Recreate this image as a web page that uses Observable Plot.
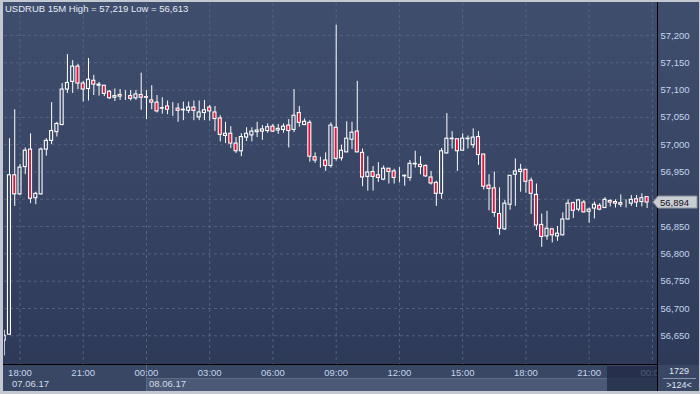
<!DOCTYPE html>
<html><head><meta charset="utf-8">
<script src="https://cdn.jsdelivr.net/npm/d3@7"></script>
<script src="https://cdn.jsdelivr.net/npm/@observablehq/plot@0.6"></script>
<style>
html,body{margin:0;padding:0;background:#c4c9d1;}
#chart{width:700px;height:394px;overflow:hidden;}
svg{display:block;}
</style></head><body><div id="chart"></div>
<script>
// ---- data ----
const titleText = "USDRUB 15M High = 57,219 Low = 56,613";
const lastPriceLabel = "56,894";
const barCountLabel = "1729";
const visibleLabel = ">124<";
const firstBar = -3; // bar index of first bar (index 0 = 18:00 07.06.17, 15-minute bars)
const opens = [56.641,56.652,56.944,56.909,56.959,56.991,56.902,56.909,56.991,57.007,57.023,57.036,57.101,57.115,57.143,57.112,57.102,57.117,57.110,57.108,57.097,57.086,57.091,57.088,57.089,57.085,57.091,57.087,57.081,57.077,57.066,57.070,57.064,57.066,57.063,57.062,57.068,57.050,57.058,57.068,57.059,57.048,57.016,57.020,57.002,56.988,57.013,57.017,57.023,57.024,57.025,57.033,57.026,57.027,57.035,57.027,57.058,57.036,57.040,56.977,56.969,56.971,56.961,57.031,56.975,56.986,57.009,57.024,56.985,56.941,56.950,56.944,56.936,56.956,56.951,56.942,56.943,56.939,56.964,56.963,56.961,56.940,56.930,56.910,56.984,57.010,57.010,56.989,57.010,56.999,57.014,56.982,56.925,56.920,56.873,56.845,56.890,56.945,56.950,56.954,56.934,56.908,56.853,56.832,56.845,56.832,56.834,56.863,56.893,56.881,56.894,56.877,56.883,56.888,56.884,56.897,56.895,56.890,56.892,56.892,56.900,56.895,56.904];
const highs = [56.660,57.011,57.064,56.964,56.994,57.020,56.913,56.994,57.011,57.077,57.041,57.112,57.165,57.154,57.147,57.116,57.158,57.127,57.114,57.108,57.099,57.102,57.101,57.099,57.099,57.099,57.131,57.099,57.108,57.090,57.086,57.080,57.077,57.075,57.078,57.078,57.080,57.080,57.081,57.072,57.070,57.053,57.041,57.033,57.013,57.020,57.031,57.031,57.041,57.035,57.038,57.037,57.037,57.038,57.046,57.101,57.070,57.047,57.044,56.985,56.977,56.985,57.040,57.219,56.999,57.042,57.041,57.116,56.992,56.978,56.960,56.967,56.961,56.956,56.955,56.958,56.945,56.971,56.988,56.978,56.963,56.951,56.933,56.993,57.057,57.024,57.010,57.020,57.016,57.029,57.024,56.982,56.945,56.950,56.921,56.898,56.943,56.974,56.964,56.954,56.939,56.928,56.873,56.878,56.845,56.850,56.875,56.899,56.895,56.900,56.898,56.884,56.895,56.892,56.903,56.899,56.899,56.908,56.899,56.907,56.907,56.910,56.905];
const lows = [56.613,56.651,56.887,56.907,56.945,56.892,56.890,56.908,56.979,57.000,57.014,57.035,57.094,57.094,57.101,57.078,57.080,57.090,57.089,57.088,57.083,57.079,57.081,57.081,57.080,57.081,57.063,57.046,57.064,57.058,57.056,57.055,57.052,57.041,57.044,57.057,57.044,57.044,57.044,57.043,57.024,57.005,57.002,56.993,56.984,56.978,57.006,57.005,57.013,57.008,57.021,57.022,57.019,57.021,56.994,57.022,57.032,57.035,56.968,56.966,56.957,56.951,56.957,56.970,56.970,56.985,56.991,56.985,56.923,56.915,56.915,56.931,56.934,56.928,56.928,56.930,56.924,56.933,56.957,56.945,56.940,56.926,56.887,56.900,56.983,56.992,56.951,56.988,56.992,56.993,56.962,56.917,56.879,56.867,56.834,56.843,56.880,56.887,56.913,56.911,56.872,56.843,56.812,56.825,56.820,56.823,56.833,56.862,56.865,56.877,56.875,56.856,56.864,56.879,56.883,56.886,56.884,56.885,56.884,56.887,56.885,56.886,56.883];
const closes = [56.650,56.944,56.909,56.958,56.989,56.901,56.910,56.991,57.007,57.025,57.038,57.101,57.113,57.143,57.112,57.101,57.119,57.110,57.108,57.093,57.085,57.089,57.088,57.088,57.084,57.092,57.086,57.086,57.077,57.061,57.067,57.064,57.064,57.062,57.064,57.068,57.062,57.059,57.063,57.061,57.047,57.018,57.020,57.002,56.988,57.014,57.020,57.024,57.026,57.028,57.032,57.024,57.029,57.033,57.025,57.053,57.040,57.042,56.978,56.971,56.969,56.961,57.035,56.974,56.989,57.011,57.022,56.986,56.940,56.949,56.941,56.939,56.956,56.950,56.939,56.942,56.942,56.965,56.965,56.959,56.942,56.929,56.910,56.988,57.011,57.011,56.988,57.011,57.011,57.013,56.981,56.923,56.919,56.875,56.846,56.892,56.943,56.951,56.954,56.932,56.910,56.852,56.831,56.846,56.834,56.837,56.863,56.892,56.879,56.898,56.876,56.881,56.890,56.881,56.899,56.894,56.892,56.893,56.892,56.899,56.894,56.902,56.894];
const priceTicks = [56.65,56.70,56.75,56.80,56.85,56.90,56.95,57.00,57.05,57.10,57.15,57.20];
const priceLabels = ["56,650","56,700","56,750","56,800","56,850","56,900","56,950","57,000","57,050","57,100","57,150","57,200"];
const timeTicks = [0,12,24,36,48,60,72,84,96,108,120];
const timeLabels = ["18:00","21:00","00:00","03:00","06:00","09:00","12:00","15:00","18:00","21:00","00:00"];
const dayStarts = [-3, 24];
const dayLabels = ["07.06.17","08.06.17"];

// ---- build ----
const bars = opens.map((o,i)=>({k:firstBar+i,o,h:highs[i],l:lows[i],c:closes[i]}));
const bull = bars.filter(d=>d.c>=d.o), bear = bars.filter(d=>d.c<d.o);
const hb = 0.285;
const RED = "#e1143c", GRID = "#55637f", LBL = "#c3d6ef";
const FONT = "'Liberation Sans', Arial, sans-serif";
const lastClose = closes[closes.length-1];
// the tick label hidden behind the last-price box is not drawn (as in the original)
const shownPriceTicks = priceTicks.filter(v => Math.abs(v - lastClose) > 0.02);

const chart = Plot.plot({
  width:700, height:394,
  marginLeft:4, marginRight:43, marginTop:3, marginBottom:30,
  x:{domain:[-2.94,120.97], axis:null},
  y:{domain:[56.5974,57.2586], axis:null},
  style:{background:"transparent", fontFamily:FONT, fontSize:"9.5px", color:LBL},
  marks:[
    Plot.gridY(priceTicks,{stroke:GRID, strokeOpacity:1, strokeDasharray:"3,3"}),
    Plot.gridX(timeTicks,{stroke:GRID, strokeOpacity:1, strokeDasharray:"3,3"}),
    Plot.ruleX(bars,{x:"k", y1:d=>Math.max(d.o,d.c), y2:"h", stroke:"#fff", clip:true}),
    Plot.ruleX(bars,{x:"k", y1:"l", y2:d=>Math.min(d.o,d.c), stroke:"#fff", clip:true}),
    Plot.rect(bull,{x1:d=>d.k-hb, x2:d=>d.k+hb, y1:"o", y2:"c", fill:"none", stroke:"#fff", strokeWidth:1.1, clip:true}),
    Plot.rect(bear,{x1:d=>d.k-hb, x2:d=>d.k+hb, y1:"o", y2:"c", fill:RED, stroke:"#fff", strokeWidth:1.1, clip:true}),
    Plot.axisY(shownPriceTicks,{anchor:"right", tickSize:0, tickPadding:3, fill:LBL, tickFormat:d=>priceLabels[priceTicks.indexOf(d)]}),
    Plot.axisX(timeTicks,{anchor:"bottom", tickSize:0, tickPadding:5, fill:LBL, tickFormat:d=>timeLabels[timeTicks.indexOf(d)]})
  ]
});
document.getElementById("chart").appendChild(chart);

const xs = chart.scale("x"), ys = chart.scale("y");
const svg = d3.select(chart);
// background
const defs = svg.insert("defs",":first-child");
const g = defs.append("linearGradient").attr("id","bg").attr("x1",0).attr("y1",0).attr("x2",0).attr("y2",1);
g.append("stop").attr("offset","0%").attr("stop-color","#404e6e");
g.append("stop").attr("offset","45%").attr("stop-color","#384565");
g.append("stop").attr("offset","100%").attr("stop-color","#2c3856");
const back = svg.insert("g","defs + *");
back.append("rect").attr("x",3).attr("y",2).attr("width",696).attr("height",389).attr("fill","url(#bg)");
// bottom strip
back.append("rect").attr("x",3).attr("y",365).attr("width",654).attr("height",26).attr("fill","#3a4764");
const dayX = dayStarts.map(k=>Math.max(xs.apply(k),4));
back.append("rect").attr("x",xs.apply(dayStarts[1])).attr("y",378).attr("width",657-xs.apply(dayStarts[1])).attr("height",13).attr("fill","#4b5976");
back.append("line").attr("x1",xs.apply(dayStarts[1])).attr("x2",657).attr("y1",378.5).attr("y2",378.5).attr("stroke","#5c6a86");
back.append("line").attr("x1",xs.apply(dayStarts[1])+0.5).attr("x2",xs.apply(dayStarts[1])+0.5).attr("y1",365).attr("y2",391).attr("stroke","#5c6a86");

const front = svg.append("g").attr("text-anchor","start").attr("font-family",FONT).attr("font-size","9.5px");
// day labels
dayLabels.forEach((t,i)=>{
  front.append("text").attr("text-anchor","start").attr("x", i===0 ? dayX[i]+8 : dayX[i]+3).attr("y",387)
    .attr("fill","#d2dcea").text(t);
});
// scroll overlay
front.append("rect").attr("x",607).attr("y",366).attr("width",50).attr("height",25).attr("fill","#1f2842").attr("fill-opacity",0.72);
// right-bottom panel (covers axis overflow)
front.append("rect").attr("x",658).attr("y",365).attr("width",41).attr("height",26).attr("fill","#3a4764");
// separator lines
front.append("line").attr("x1",3).attr("x2",657).attr("y1",364.5).attr("y2",364.5).attr("stroke","#000");
front.append("line").attr("x1",657.5).attr("x2",657.5).attr("y1",2).attr("y2",391).attr("stroke","#000");
// title
front.append("text").attr("text-anchor","start").attr("x",5).attr("y",12).attr("fill","#e6ebf3").text(titleText);
// last price box
const py = ys.apply(lastClose);
front.append("path").attr("d",`M653,${py} L658,${py-6} L697,${py-6} L697,${py+6} L658,${py+6} Z`).attr("fill","#c9cdd4").attr("stroke","#8e949f");
front.append("text").attr("text-anchor","start").attr("x",660).attr("y",py+3.5).attr("fill","#111").text(lastPriceLabel);
// bottom-right counters
front.append("text").attr("x",679).attr("y",374).attr("text-anchor","middle").attr("font-size","9px").attr("fill","#dfe6ef").text(barCountLabel);
front.append("line").attr("x1",663).attr("x2",696).attr("y1",378.5).attr("y2",378.5).attr("stroke","#8d97aa");
front.append("text").attr("x",679).attr("y",388).attr("text-anchor","middle").attr("font-size","9px").attr("fill","#dfe6ef").text(visibleLabel);
</script></body></html>
